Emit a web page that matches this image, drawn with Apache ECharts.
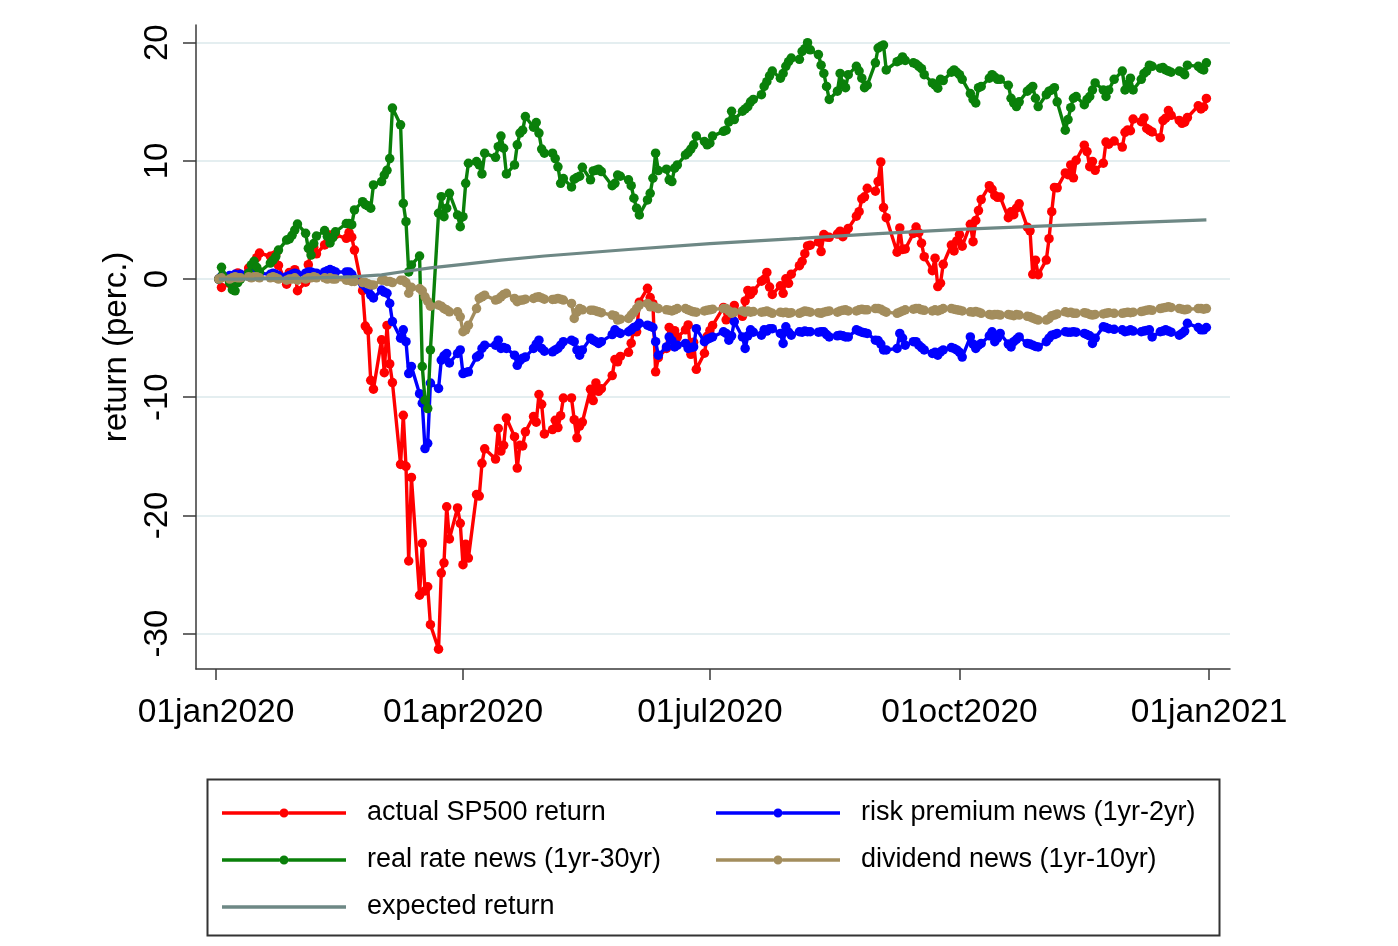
<!DOCTYPE html>
<html><head><meta charset="utf-8">
<script src="https://cdn.jsdelivr.net/npm/echarts@6/dist/echarts.min.js"></script>
<style>html,body{margin:0;padding:0;background:#fff}#c{width:1398px;height:946px}</style>
</head><body><div id="c"></div>
<script>
// Trading days of 2020, by month (Jan..Dec)
const tradeDays = [
  [2,3,6,7,8,9,10,13,14,15,16,17,21,22,23,24,27,28,29,30,31],
  [3,4,5,6,7,10,11,12,13,14,18,19,20,21,24,25,26,27,28],
  [2,3,4,5,6,9,10,11,12,13,16,17,18,19,20,23,24,25,26,27,30,31],
  [1,2,3,6,7,8,9,13,14,15,16,17,20,21,22,23,24,27,28,29,30],
  [1,4,5,6,7,8,11,12,13,14,15,18,19,20,21,22,26,27,28,29],
  [1,2,3,4,5,8,9,10,11,12,15,16,17,18,19,22,23,24,25,26,29,30],
  [1,2,6,7,8,9,10,13,14,15,16,17,20,21,22,23,24,27,28,29,30,31],
  [3,4,5,6,7,10,11,12,13,14,17,18,19,20,21,24,25,26,27,28,31],
  [1,2,3,4,8,9,10,11,14,15,16,17,18,21,22,23,24,25,28,29,30],
  [1,2,5,6,7,8,9,12,13,14,15,16,19,20,21,22,23,26,27,28,29,30],
  [2,3,4,5,6,9,10,11,12,13,16,17,18,19,20,23,24,25,27,30],
  [1,2,3,4,7,8,9,10,11,14,15,16,17,18,21,22,23,24,28,29,30,31]
];

const actualSP500 = [
  0,-0.71,-0.36,-0.63,-0.15,0.52,0.23,0.93,0.78,0.97,1.81,2.2,1.93,1.96,2.08,1.15,-0.44,0.56,0.48,0.79,-0.99,
  -0.27,1.22,2.36,2.7,2.14,2.89,3.07,3.73,3.56,3.75,3.45,3.94,3.54,2.45,-0.98,-3.98,-4.34,-8.57,-9.32,
  -5.14,-7.92,-3.92,-7.18,-8.76,-15.69,-11.53,-15.85,-23.86,-16.79,-26.76,-22.37,-26.39,-26.04,-29.25,-31.32,-24.88,-24.01,-19.27,-21.99,-19.37,-20.67,
  -24.17,-22.44,-23.61,-18.24,-18.37,-15.59,-14.37,-15.23,-12.64,-14.56,-14.07,-11.76,-13.34,-16.0,-14.07,-14.12,-12.93,-11.64,-12.11,-9.77,-10.6,
  -13.11,-12.74,-11.95,-12.57,-11.56,-10.07,-10.06,-11.9,-13.44,-12.44,-12.1,-9.33,-10.28,-8.79,-9.5,-9.28,-8.17,-6.81,-7.0,-6.55,
  -6.2,-5.43,-4.14,-4.47,-1.96,-0.78,-1.56,-2.08,-7.85,-6.65,-5.87,-4.09,-4.43,-4.37,-4.91,-4.3,-3.88,-6.37,-5.34,-7.64,-6.28,-4.84,
  -4.36,-3.92,-2.4,-3.45,-2.7,-3.25,-2.23,-3.15,-1.85,-0.96,-1.3,-1.02,-0.18,-0.02,0.56,-0.68,-1.3,-0.57,-1.21,0.02,-0.36,0.41,
  1.13,1.49,2.15,2.8,2.87,3.15,2.33,3.76,3.55,3.53,3.81,4.05,3.59,3.92,4.28,5.32,5.7,6.78,6.96,7.68,7.44,
  8.25,9.91,6.05,5.19,2.27,4.33,2.5,2.55,3.86,4.4,3.92,3.04,1.89,0.71,1.77,-0.64,-0.35,1.25,2.88,2.38,3.23,
  3.77,2.78,4.63,3.16,4.96,5.8,6.73,7.9,7.6,7.08,6.92,6.94,5.19,5.69,5.45,6.0,6.37,4.39,4.08,0.4,1.6,0.37,
  1.61,3.42,5.7,7.75,7.72,8.98,8.83,9.66,8.57,10.05,11.33,10.79,9.51,9.95,9.2,9.81,11.59,11.41,11.68,11.17,
  12.42,12.62,12.55,13.54,13.32,13.64,12.74,12.59,12.45,11.96,13.41,13.61,14.26,13.86,13.42,13.18,13.27,13.67,14.66,14.4,14.56,15.29
];

const riskPremium = [
  0.0,0.2,0.3,0.2,0.4,0.3,0.4,0.5,0.4,0.5,0.6,0.5,0.4,0.5,0.4,0.3,0.2,0.3,0.4,0.5,0.4,
  0.5,0.6,0.6,0.5,0.5,0.6,0.7,0.8,0.7,0.6,0.6,0.6,0.4,0.0,-0.4,-0.6,-0.9,-1.35,-1.6,
  -0.93,-1.1,-1.2,-2.06,-3.6,-5.0,-4.3,-5.3,-8.0,-7.4,-9.7,-10.5,-14.35,-13.9,-8.8,-9.26,-6.86,-6.5,-6.3,-7.1,-6.3,-6.0,
  -8.0,-7.9,-7.85,-6.6,-6.44,-5.87,-5.6,-5.6,-5.17,-5.87,-5.8,-5.87,-6.44,-7.3,-6.9,-6.7,-6.6,-5.87,-5.5,-5.17,-5.87,
  -6.1,-6.16,-6.0,-5.87,-5.6,-5.3,-5.17,-5.3,-6.0,-6.44,-6.0,-5.0,-5.17,-5.3,-5.45,-5.3,-4.7,-4.3,-4.5,-4.6,
  -4.46,-4.3,-4.1,-4.0,-3.75,-3.9,-4.0,-4.1,-5.3,-6.44,-5.74,-4.9,-5.2,-5.74,-5.6,-5.45,-5.87,-5.8,-5.74,-4.2,-5.3,-5.1,
  -5.0,-4.9,-4.46,-4.6,-5.17,-4.8,-3.6,-4.9,-5.87,-4.8,-4.3,-4.5,-4.75,-4.3,-4.4,-4.2,-4.2,-4.6,-5.45,-4.04,-4.5,-4.75,
  -4.46,-4.5,-4.4,-4.46,-4.46,-4.5,-4.46,-4.46,-4.7,-4.9,-4.8,-4.75,-4.8,-4.9,-4.9,-4.3,-4.4,-4.5,-4.55,-4.6,-5.17,
  -5.2,-5.5,-6.0,-6.0,-5.87,-4.6,-5.0,-5.6,-5.3,-5.3,-5.6,-5.8,-6.0,-6.3,-6.2,-6.44,-6.16,-6.0,-5.8,-5.87,-6.0,
  -6.2,-6.6,-4.9,-5.5,-5.87,-5.6,-5.45,-4.8,-4.46,-5.3,-5.0,-4.6,-5.5,-5.74,-5.3,-5.1,-4.9,-5.45,-5.5,-5.6,-5.7,-5.74,
  -5.3,-5.0,-4.75,-4.7,-4.6,-4.46,-4.5,-4.5,-4.46,-4.5,-4.6,-4.7,-4.8,-5.45,-5.0,-4.04,-4.1,-4.2,-4.25,-4.3,
  -4.46,-4.4,-4.3,-4.4,-4.46,-4.4,-4.35,-4.3,-4.9,-4.46,-4.4,-4.3,-4.4,-4.5,-4.75,-4.6,-4.4,-3.75,-4.1,-4.3,-4.3,-4.1
];

const realRate = [
  0,1.0,-0.3,-0.9,-1.0,-0.3,0.0,0.5,1.2,1.5,1.0,0.6,1.35,1.6,1.9,2.45,3.3,3.4,3.7,4.15,4.66,
  3.87,2.6,2.03,3.0,3.64,4.1,3.6,3.05,3.5,4.0,4.7,4.7,4.6,5.85,6.55,6.3,6.2,6.0,7.97,
  8.25,8.8,9.2,10.2,14.47,13.05,6.4,4.86,0.6,1.2,1.95,-7.4,-10.25,-10.96,-6.0,5.57,6.97,5.28,6.0,7.26,5.42,4.43,
  5.28,8.1,9.8,9.94,9.66,8.9,10.65,10.3,11.2,12.1,11.07,8.9,9.66,11.36,12.35,12.6,13.75,12.85,13.25,12.35,11.0,
  10.65,10.65,10.2,9.5,8.1,8.5,7.8,8.45,8.6,8.7,9.46,8.4,9.15,9.2,9.3,9.1,7.9,8.1,8.8,8.7,
  8.4,7.9,6.84,6.0,5.42,6.7,7.26,8.53,10.65,9.18,9.3,8.4,8.25,9.38,9.66,10.5,10.7,11.0,11.36,12.1,11.64,11.36,
  11.5,12.1,12.5,12.6,13.3,14.2,13.5,14.2,14.4,14.6,15.0,15.2,15.6,16.3,16.7,17.2,17.6,17.0,17.4,18.0,18.4,18.7,
  18.6,19.26,19.5,20.0,19.4,19.0,18.1,17.4,16.3,15.2,15.9,17.4,16.5,16.2,17.3,18.0,17.6,17.0,16.2,16.4,18.3,
  19.55,19.7,19.8,17.7,18.4,18.5,18.8,18.5,18.3,18.2,18.0,17.8,17.3,16.6,16.4,16.15,16.9,16.8,17.5,17.7,17.5,
  17.3,16.9,15.7,15.2,14.9,16.2,16.3,17.0,17.3,17.1,16.9,16.9,16.4,15.3,14.9,14.6,15.0,15.9,16.1,16.3,15.3,14.6,
  15.6,15.9,16.0,16.2,15.0,12.6,13.5,14.5,15.3,15.45,14.75,15.2,15.45,16.0,16.6,16.0,15.45,16.0,16.9,17.6,
  16.0,16.5,17.0,16.0,16.9,17.4,17.6,18.1,18.0,17.85,17.9,17.7,17.6,17.5,17.6,17.5,17.3,18.1,18.0,17.8,17.7,18.3
];

const dividendNews = [
  0,0.1,0.0,0.1,0.2,0.1,0.1,0.2,0.1,0.2,0.2,0.1,0.1,0.2,0.1,0.0,-0.1,0.0,0.0,0.1,-0.1,
  0.0,0.1,0.1,0.2,0.1,0.1,0.0,0.1,0.0,0.0,-0.1,-0.1,-0.2,-0.2,-0.3,-0.3,-0.4,-0.5,-0.5,
  -0.1,-0.1,-0.2,-0.2,-0.3,-0.1,-0.1,-0.3,-1.2,-0.7,-0.8,-1.0,-1.5,-1.9,-2.3,-2.2,-2.3,-2.5,-2.6,-2.77,-2.77,-3.2,
  -4.46,-4.3,-3.9,-2.5,-1.64,-1.5,-1.36,-1.78,-1.7,-1.5,-1.3,-1.2,-1.64,-1.92,-1.8,-1.78,-1.7,-1.64,-1.55,-1.5,-1.6,
  -1.7,-1.72,-1.7,-1.64,-1.7,-1.78,-2.06,-3.33,-2.8,-2.5,-2.6,-2.63,-2.63,-2.7,-2.77,-2.85,-3.05,-3.1,-3.47,-3.4,
  -3.33,-3.05,-2.8,-2.5,-2.2,-2.06,-2.35,-2.3,-2.4,-2.5,-2.6,-2.63,-2.7,-2.6,-2.5,-2.5,-2.6,-2.7,-2.77,-2.8,-2.7,-2.63,
  -2.6,-2.55,-2.5,-2.5,-2.7,-2.9,-2.8,-2.7,-2.8,-2.7,-2.8,-2.75,-2.8,-2.77,-2.7,-2.8,-2.9,-2.8,-2.85,-2.8,-2.9,-2.85,
  -2.9,-2.8,-2.7,-2.75,-2.8,-2.85,-2.9,-2.8,-2.75,-2.7,-2.8,-2.7,-2.65,-2.6,-2.7,-2.7,-2.6,-2.55,-2.6,-2.6,-2.5,
  -2.5,-2.55,-2.7,-2.8,-2.9,-2.8,-2.7,-2.6,-2.55,-2.5,-2.5,-2.6,-2.65,-2.7,-2.6,-2.7,-2.6,-2.5,-2.5,-2.55,-2.6,
  -2.65,-2.7,-2.77,-2.8,-2.75,-2.8,-2.9,-3.0,-3.05,-3.0,-3.0,-3.05,-3.0,-3.05,-3.1,-3.0,-3.05,-3.15,-3.2,-3.3,-3.4,-3.47,
  -3.47,-3.35,-3.1,-3.05,-2.95,-2.77,-2.85,-2.8,-2.9,-2.9,-2.85,-2.9,-3.0,-3.05,-3.0,-2.95,-2.9,-2.85,-2.9,-2.9,
  -2.85,-2.8,-2.85,-2.8,-2.75,-2.7,-2.63,-2.6,-2.65,-2.5,-2.45,-2.4,-2.35,-2.4,-2.5,-2.55,-2.6,-2.55,-2.5,-2.5,-2.55,-2.5
];

const expectedDates = ['2020-01-02','2020-01-15','2020-02-03','2020-02-20','2020-03-02','2020-03-09','2020-03-20','2020-04-01','2020-04-15','2020-05-01','2020-06-01','2020-07-01','2020-08-03','2020-09-01','2020-10-01','2020-11-02','2020-12-01','2020-12-31'];
const expectedReturn = [0,0.02,0.08,0.18,0.35,0.6,0.95,1.25,1.6,1.95,2.5,3.0,3.45,3.85,4.2,4.5,4.75,5.0];

const xTickDates = ['2020-01-01','2020-04-01','2020-07-01','2020-10-01','2021-01-01'];
const xTickLabels = ['01jan2020','01apr2020','01jul2020','01oct2020','01jan2021'];
const yTicks = [-30,-20,-10,0,10,20];

const seriesNames = ['actual SP500 return','risk premium news (1yr-2yr)','real rate news (1yr-30yr)','dividend news (1yr-10yr)','expected return'];
const seriesColors = ['#ff0000','#0000ff','#0a800a','#a38d5d','#6e8885'];

// ---- build
function ts(s){ const p = s.split('-').map(Number); return Date.UTC(p[0], p[1]-1, p[2]); }
const dates = [];
tradeDays.forEach((days, m) => days.forEach(d => dates.push(Date.UTC(2020, m, d))));
const pair = arr => arr.map((v, i) => [dates[i], v]);
const tickTs = xTickDates.map(ts);
const DAY = 86400000;
const FONT = '"Liberation Sans", Arial, sans-serif';

// legend icons: line with centre dot (pieces do not overlap so fill is solid), and plain line
const ICON_DOT = 'path://M0,-1.7L57.6,-1.7L57.6,1.7L0,1.7Z M66.4,-1.7L124,-1.7L124,1.7L66.4,1.7Z M57.5,0A4.5,4.5 0 1,1 66.5,0A4.5,4.5 0 1,1 57.5,0Z';
const ICON_LINE = 'path://M0,-4.5L0.01,-4.5L0.01,-4.49L0,-4.49Z M0,-1.7L124,-1.7L124,1.7L0,1.7Z M0,4.49L0.01,4.49L0.01,4.5L0,4.5Z';

function dotSeries(idx, arr, z){
  return {
    name: seriesNames[idx], type: 'line', data: pair(arr), z: z,
    symbol: 'circle', symbolSize: 9.5, showAllSymbol: true,
    lineStyle: { width: 3.4, color: seriesColors[idx] },
    itemStyle: { color: seriesColors[idx] },
    emphasis: { disabled: true }, animation: false
  };
}

const chart = echarts.init(document.getElementById('c'), null, { renderer: 'canvas' });
const legendCommon = {
  orient: 'vertical', itemWidth: 124, itemHeight: 9, itemGap: 17,
  textStyle: { fontFamily: FONT, fontSize: 27, color: '#000', lineHeight: 30, padding: [0,0,0,16] },
  selectedMode: false
};
const legItem = i => ({ name: seriesNames[i], icon: i === 4 ? ICON_LINE : ICON_DOT, itemStyle: { color: seriesColors[i] } });
chart.setOption({
  backgroundColor: '#fff',
  animation: false,
  grid: { left: 196, right: 168, top: 25, bottom: 277 },
  xAxis: {
    type: 'value',
    min: ts('2020-01-01') - 7.4 * DAY,
    max: ts('2021-01-01') + 7.7 * DAY,
    axisLine: { show: true, onZero: false, lineStyle: { color: '#3a3a3a', width: 1.5 } },
    axisTick: { show: true, customValues: tickTs, length: 11, lineStyle: { color: '#3a3a3a', width: 1.5 } },
    axisLabel: {
      customValues: tickTs, margin: 27, fontFamily: FONT, fontSize: 33.5, color: '#000',
      formatter: v => { const i = tickTs.indexOf(v); return i >= 0 ? xTickLabels[i] : ''; }
    },
    splitLine: { show: false }
  },
  yAxis: {
    type: 'value', min: -33, max: 21.5,
    name: 'return (perc.)', nameLocation: 'middle', nameGap: 51, nameRotate: 90,
    nameTextStyle: { fontFamily: FONT, fontSize: 33, color: '#000' },
    axisLine: { show: true, onZero: false, lineStyle: { color: '#3a3a3a', width: 1.5 } },
    axisTick: { show: true, customValues: yTicks, length: 13, lineStyle: { color: '#3a3a3a', width: 1.5 } },
    axisLabel: { customValues: yTicks, rotate: 90, margin: 22, fontFamily: FONT, fontSize: 33, color: '#000' },
    splitLine: { show: true, lineStyle: { color: '#e4eef0', width: 2 } }
  },
  legend: [
    Object.assign({ left: 217, top: 793, data: [legItem(0), legItem(2), legItem(4)] }, legendCommon),
    Object.assign({ left: 711, top: 793, data: [legItem(1), legItem(3)] }, legendCommon)
  ],
  graphic: [{
    type: 'rect', left: 205, top: 777, silent: true,
    shape: { width: 1012, height: 156 },
    style: { fill: 'none', stroke: '#333', lineWidth: 2 }
  }],
  series: [
    dotSeries(0, actualSP500, 2),
    dotSeries(1, riskPremium, 3),
    dotSeries(2, realRate, 4),
    dotSeries(3, dividendNews, 5),
    {
      name: seriesNames[4], type: 'line', z: 6, symbol: 'none',
      data: expectedDates.map((d, i) => [ts(d), expectedReturn[i]]),
      lineStyle: { width: 3.2, color: seriesColors[4] },
      itemStyle: { color: seriesColors[4] },
      emphasis: { disabled: true }, animation: false
    }
  ]
});
</script></body></html>
